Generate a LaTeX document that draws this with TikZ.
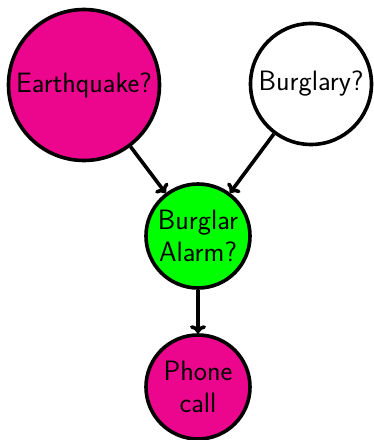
\documentclass[tikz,border=0pt]{standalone}
\usetikzlibrary{arrows.meta}
\definecolor{mag}{RGB}{236,6,141}
\definecolor{grn}{RGB}{0,255,0}
\begin{document}
\begin{tikzpicture}[x=1pt,y=1pt,
  bnode/.style={circle,draw=black,line width=3.6pt,inner sep=0pt,align=center,
    font=\sffamily\fontsize{28}{32}\selectfont},
  edge/.style={line width=3.6pt,-{To[length=8pt,width=16pt,line width=3.6pt]}}]
\useasboundingbox (0,0) rectangle (373,440);
\node[bnode,fill=mag,minimum size=151pt] (eq) at (84,355) {Earthquake?};
\node[bnode,fill=white,minimum size=121pt] (bu) at (311,356) {Burglary?};
\node[bnode,fill=grn,minimum size=104pt] (al) at (198,204) {Burglar\\Alarm?};
\node[bnode,fill=mag,minimum size=104pt] (ph) at (198,53) {Phone\\call};
\draw[edge] (eq) -- (al);
\draw[edge] (bu) -- (al);
\draw[edge] (al) -- (ph);
\end{tikzpicture}
\end{document}
